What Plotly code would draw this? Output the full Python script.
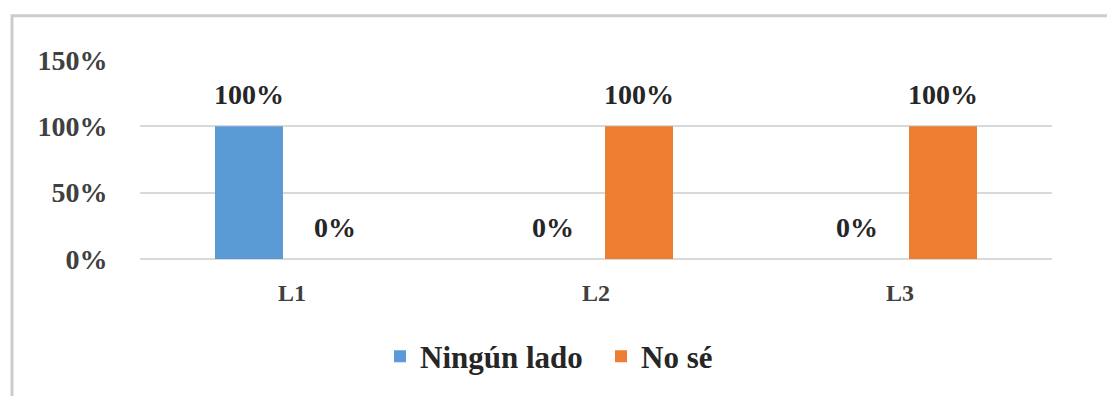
import plotly.graph_objects as go

# Chart data
categories = ["L1", "L2", "L3"]
ningun_lado = [1.0, 0.0, 0.0]
no_se = [0.0, 1.0, 1.0]
series_names = ["Ningún lado", "No sé"]
y_ticks = [0, 0.5, 1.0, 1.5]

BLUE = "#5B9BD5"
ORANGE = "#ED7D31"
FONT = "Liberation Serif"

W, H = 1107, 396
M_L, M_R, M_T, M_B = 140, 55, 60, 134
PLOT_W = W - M_L - M_R
PLOT_H = H - M_T - M_B


def bold(s):
    return f"<b>{s}</b>"


fig = go.Figure()
for name, vals, color in [(series_names[0], ningun_lado, BLUE),
                          (series_names[1], no_se, ORANGE)]:
    fig.add_trace(go.Bar(
        x=categories, y=vals, name=bold(name),
        marker=dict(color=color, line=dict(width=0)),
    ))

# Value labels above each bar, offset to the bar's slot within the group
bargap, bargroupgap = 0.434, 0.21
cat_w = PLOT_W / len(categories)
slot = cat_w * (1 - bargap) / 2
for i, vals in enumerate([ningun_lado, no_se]):
    shift = (i - 0.5) * slot
    for c, v in zip(categories, vals):
        fig.add_annotation(
            x=c, y=v, text=bold(f"{v:.0%}"), showarrow=False,
            xshift=shift, yshift=14, yanchor="bottom",
            font=dict(family=FONT, size=28, color="#262626"),
        )

# Chart-area frame
def px_x(p):
    return (p - M_L) / PLOT_W

def px_y(p):
    return (H - M_B - p) / PLOT_H

fig.add_shape(type="rect", xref="paper", yref="paper",
              x0=px_x(12), x1=px_x(1112), y0=px_y(420), y1=px_y(15),
              line=dict(color="#cccccc", width=3), fillcolor="rgba(0,0,0,0)",
              layer="below")

fig.update_layout(
    width=W, height=H,
    margin=dict(l=M_L, r=M_R, t=M_T, b=M_B),
    paper_bgcolor="white", plot_bgcolor="white",
    barmode="group", bargap=bargap, bargroupgap=bargroupgap,
    font=dict(family=FONT, color="#404040"),
    showlegend=True,
    legend=dict(
        orientation="h", x=px_x(380), xanchor="left",
        y=px_y(361), yanchor="middle",
        font=dict(family=FONT, size=31, color="#262626"),
        entrywidth=176, entrywidthmode="pixels",
        itemclick=False, traceorder="normal",
    ),
    xaxis=dict(
        showgrid=False, showline=False, zeroline=False,
        ticks="outside", ticklen=12, tickcolor="rgba(0,0,0,0)",
        tickvals=categories, ticktext=[bold(c) for c in categories],
        tickfont=dict(family=FONT, size=24, color="#404040"),
    ),
    yaxis=dict(
        range=[0, 1.5], tickvals=y_ticks,
        ticktext=[bold(f"{t:.0%}") for t in y_ticks],
        showgrid=True, gridcolor="#d9d9d9", gridwidth=2,
        zeroline=True, zerolinecolor="#d9d9d9", zerolinewidth=2,
        showline=False,
        ticks="outside", ticklen=26, tickcolor="rgba(0,0,0,0)",
        tickfont=dict(family=FONT, size=28, color="#404040"),
    ),
)

fig.write_html("out.html")
